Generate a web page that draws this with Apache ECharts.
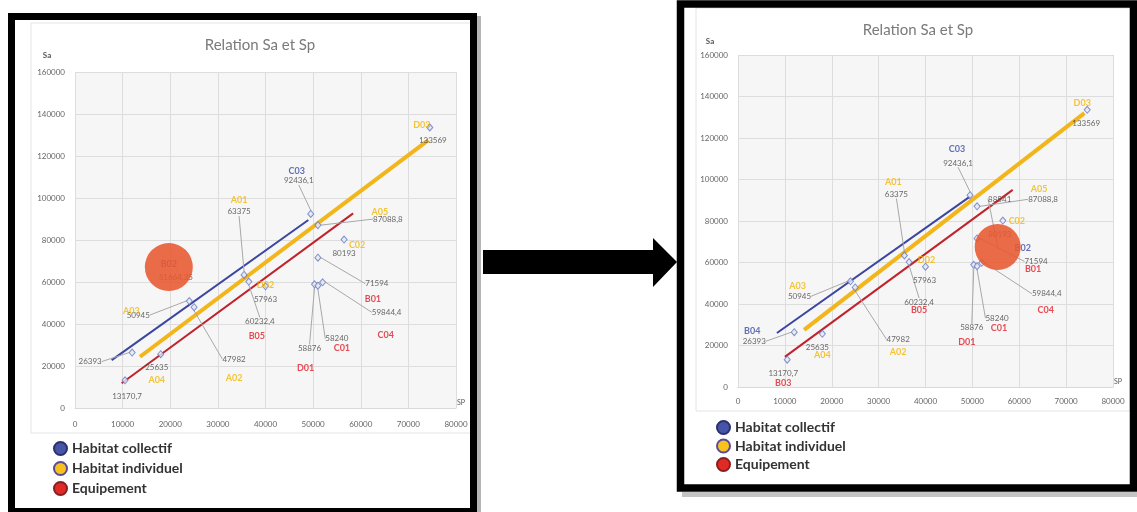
<!DOCTYPE html>
<html>
<head>
<meta charset="utf-8">
<title>Relation Sa et Sp</title>
<script src="https://cdn.jsdelivr.net/npm/echarts@6/dist/echarts.min.js"></script>
<style>
  html, body { margin: 0; padding: 0; background: #fff; }
  #chart { width: 1137px; height: 512px; }
</style>
</head>
<body>
<div id="chart"></div>
<script>
// points (same in both panels)
const codes = ['B04', 'A04', 'B03', 'A03', 'A02', 'A01', 'B05', 'D02', 'C03', 'A05', 'C02', 'B01', 'D01', 'C01', 'C04', 'D03'];
const sp = [12000, 18000, 10500, 24000, 25000, 35500, 36500, 40000, 49500, 51000, 56500, 51000, 50300, 51000, 52000, 74500];
const sa = [26393, 25635, 13170.7, 50945, 47982, 63375, 60232.4, 57963, 92436.1, 87088.8, 80193, 71594, 58876, 58240, 59844.4, 133569];
// 0 = collectif, 1 = individuel, 2 = equipement
const groupIdx = [0, 1, 2, 1, 1, 1, 2, 1, 0, 1, 1, 2, 2, 2, 2, 1];
const categories = ['Habitat collectif', 'Habitat individuel', 'Equipement'];

// highlighted point (bubble), left panel then right panel
const bubbleCode = 'B02';
const bubbleSp = [19700, 55400];
const bubbleSa = [67100, 67500];
const bubbleValue = [51664.35, 88541];

// trend lines, left panel
const trendLeft = [
  [[7700, 22800], [49000, 89500]],
  [[13650, 24400], [74200, 127600]],
  [[9800, 11800], [58400, 92700]]
];
// trend lines, right panel
const trendRight = [
  [[8300, 26000], [49400, 91600]],
  [[14100, 27500], [73900, 132000]],
  [[10000, 14500], [58600, 95000]]
];

const xTicks = { min: 0, max: 80000, interval: 10000 };
const yTicks = { min: 0, max: 160000, interval: 20000 };

// label placement (pixels from the point) - layout only
const valueOff = [
  [[-42, 9], [-4, 13], [2, 16], [-51, 14], [40, 52], [-5, -63], [11, 40], [0, 13], [-12, -33], [70, -6], [0, 14], [59, 26], [-5, 64], [19, 53], [64, 30], [3, 13], [7, 10]],
  [[-40, 9], [-5, 14], [-4, 14], [-51, 15], [43, 52], [-8, -61], [10, 40], [-1, 14], [-12, -32], [66, -7], [-3, 14], [59, 23], [-2, 63], [20, 52], [65, 31], [-1, 14], [2, -48]]
];
const codeOff = [
  [[0, 0], [-4, 26], [0, 0], [-58, 10], [40, 71], [-5, -75], [8, 55], [0, -1], [-14, -43], [62, -13], [13, 5], [55, 41], [-9, 84], [24, 62], [63, 53], [-8, -2], [0, -3]],
  [[-42, -1], [0, 21], [-4, 23], [-53, 5], [43, 65], [-11, -73], [10, 48], [1, -7], [-13, -46], [62, -17], [14, 0], [56, 31], [-7, 77], [22, 62], [64, 47], [-5, -7], [25, 1]]
];
const hiddenLeft = ['B04', 'B03'];

const lineColors = ['#3b46a0', '#f2b51a', '#c0232b'];
const codeColors = ['#3b4ea6', '#f2b705', '#e0202a'];
const legendFill = ['#4755a8', '#f8c21c', '#e02a26'];
const legendBorder = ['#2a2f6e', '#5a4a9a', '#8a1e1e'];

const fmt = v => String(v).replace('.', ',');
const FONT = 'Lato';

const grids = [
  { left: 75, top: 72, width: 381, height: 336 },
  { left: 738, top: 55, width: 375, height: 332 }
];

function xAxis(i) {
  return {
    type: 'value', gridIndex: i, min: xTicks.min, max: xTicks.max, interval: xTicks.interval,
    name: 'SP', nameLocation: 'end', nameGap: 1,
    nameTextStyle: { fontSize: 7, color: '#555', fontFamily: FONT, verticalAlign: 'bottom', padding: [0, 0, 2, 0] },
    axisLine: { show: true, lineStyle: { color: '#d9d9d9' } },
    axisTick: { show: false },
    axisLabel: { fontSize: 8, color: '#666', fontFamily: FONT, margin: i === 0 ? 12 : 10, formatter: v => String(v) },
    splitLine: { show: true, lineStyle: { color: '#dddddd' } }
  };
}
function yAxis(i) {
  return {
    type: 'value', gridIndex: i, min: yTicks.min, max: yTicks.max, interval: yTicks.interval,
    name: 'Sa', nameLocation: 'end', nameGap: i === 0 ? 13 : 10,
    nameTextStyle: { fontSize: 8, fontWeight: 'bold', color: '#555', fontFamily: FONT, padding: [0, 56, 0, 0] },
    axisLine: { show: false },
    axisTick: { show: false },
    axisLabel: { fontSize: 8, color: '#666', fontFamily: FONT, margin: 10, formatter: v => String(v) },
    splitLine: { show: true, lineStyle: { color: '#dddddd' } }
  };
}

function panelSeries(p) {
  const trends = p === 0 ? trendLeft : trendRight;
  const out = [];
  trends.forEach((pts, k) => {
    out.push({
      type: 'line', name: categories[k], xAxisIndex: p, yAxisIndex: p,
      data: pts, symbol: 'none', z: 2, silent: true,
      itemStyle: { color: legendFill[k] },
      lineStyle: { color: lineColors[k], width: k === 1 ? 4 : 2 }
    });
  });

  const pts = codes.map((c, i) => {
    const o = valueOff[p][i];
    return {
      value: [sp[i], sa[i]],
      label: { formatter: fmt(sa[i]) },
      labelLine: { show: Math.abs(o[1]) > 25 || Math.abs(o[0]) > 35 }
    };
  });
  pts.push({
    value: [bubbleSp[p], bubbleSa[p]], symbolSize: 0,
    label: { formatter: fmt(bubbleValue[p]) },
    labelLine: { show: p === 1 }
  });
  out.push({
    type: 'scatter', name: 'points' + p, xAxisIndex: p, yAxisIndex: p, z: 4,
    symbol: 'diamond', symbolSize: [6, 7],
    itemStyle: { color: '#e4e9f6', borderColor: '#6577bd', borderWidth: 1 },
    label: { show: true, position: 'inside', fontSize: 8, color: '#444', fontFamily: FONT },
    labelLine: { show: true, lineStyle: { color: '#a8a8a8', width: 1 } },
    labelLayout: params => {
      const o = valueOff[p][params.dataIndex];
      return { dx: o[0], dy: o[1] };
    },
    data: pts
  });

  const cds = codes.map((c, i) => ({
    value: [sp[i], sa[i]],
    label: { show: !(p === 0 && hiddenLeft.includes(c)), formatter: c, color: codeColors[groupIdx[i]] }
  }));
  cds.push({
    value: [bubbleSp[p], bubbleSa[p]],
    label: { show: true, formatter: bubbleCode, color: codeColors[0] }
  });
  out.push({
    type: 'scatter', name: 'codes' + p, xAxisIndex: p, yAxisIndex: p, z: 5,
    symbolSize: 1, itemStyle: { color: 'rgba(0,0,0,0)' }, silent: true,
    label: { show: true, position: 'inside', fontSize: 9, fontWeight: 'bold', fontFamily: FONT },
    labelLayout: params => {
      const o = codeOff[p][params.dataIndex];
      return { dx: o[0], dy: o[1] };
    },
    data: cds
  });

  out.push({
    type: 'scatter', name: 'bubble' + p, xAxisIndex: p, yAxisIndex: p, z: 10,
    symbol: 'circle', symbolSize: p === 0 ? 48 : 46, silent: true,
    itemStyle: { color: '#e8582f', opacity: 0.88 },
    data: [[bubbleSp[p], bubbleSa[p]]]
  });
  return out;
}

function legend(p) {
  return {
    orient: 'vertical',
    left: p === 0 ? 48 : 711,
    top: p === 0 ? 436 : 415,
    itemWidth: 13, itemHeight: 13,
    itemGap: p === 0 ? 5 : 3.5,
    selectedMode: false,
    textStyle: { fontSize: 14, fontWeight: 'bold', color: '#333', fontFamily: FONT },
    data: categories.map((name, k) => ({
      name, icon: 'circle',
      itemStyle: { color: legendFill[k], borderColor: legendBorder[k], borderWidth: 2 }
    }))
  };
}

const chart = echarts.init(document.getElementById('chart'), null, { renderer: 'canvas' });
chart.setOption({
  animation: false,
  backgroundColor: '#ffffff',
  title: [
    { text: 'Relation Sa et Sp', left: 255, top: 33, textAlign: 'center',
      textStyle: { fontSize: 15, fontWeight: 'normal', color: '#7a7a7a', fontFamily: FONT } },
    { text: 'Relation Sa et Sp', left: 913, top: 18, textAlign: 'center',
      textStyle: { fontSize: 15, fontWeight: 'normal', color: '#7a7a7a', fontFamily: FONT } }
  ],
  grid: grids.map(g => Object.assign({ show: true, backgroundColor: '#f6f6f6', borderWidth: 0, containLabel: false }, g)),
  xAxis: [xAxis(0), xAxis(1)],
  yAxis: [yAxis(0), yAxis(1)],
  legend: [legend(0), legend(1)],
  series: panelSeries(0).concat(panelSeries(1)),
  graphic: [
    { type: 'rect', z: 0, shape: { x: 31, y: 23, width: 440, height: 410 },
      style: { fill: 'none', stroke: '#e4e4e4', lineWidth: 1 } },
    { type: 'rect', z: 0, shape: { x: 696, y: 8, width: 434, height: 403 },
      style: { fill: 'none', stroke: '#e4e4e4', lineWidth: 1 } },
    { type: 'rect', z: 100, shape: { x: 477, y: 16, width: 4, height: 496 },
      style: { fill: '#b5b5b5' } },
    { type: 'rect', z: 100, shape: { x: 682, y: 492, width: 455, height: 5 },
      style: { fill: '#c4c4c4' } },
    { type: 'rect', z: 101, shape: { x: 11.5, y: 16.5, width: 462, height: 495 },
      style: { fill: 'none', stroke: '#000', lineWidth: 7 } },
    { type: 'rect', z: 101, shape: { x: 680.5, y: 4, width: 453, height: 484 },
      style: { fill: 'none', stroke: '#000', lineWidth: 7.5 } },
    { type: 'polygon', z: 101,
      shape: { points: [[483, 250], [653, 250], [653, 238], [677, 262], [653, 287], [653, 274], [483, 274]] },
      style: { fill: '#000' } }
  ]
});
</script>
</body>
</html>
